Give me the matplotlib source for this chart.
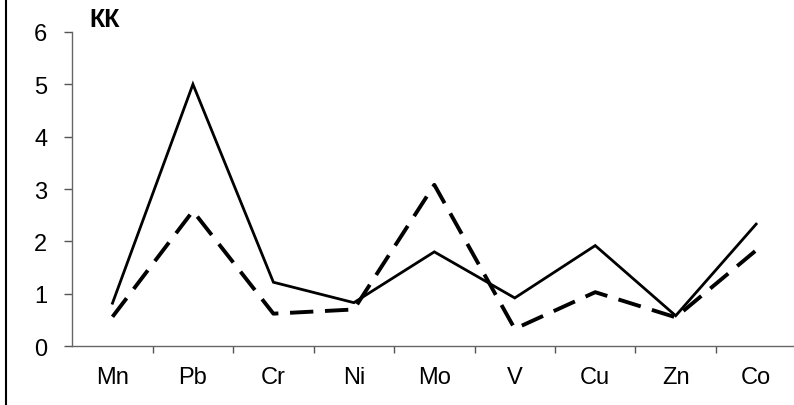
import matplotlib
matplotlib.use("Agg")
import matplotlib.pyplot as plt
from matplotlib.lines import Line2D

elements = ["Mn", "Pb", "Cr", "Ni", "Mo", "V", "Cu", "Zn", "Co"]
kk_solid = [0.82, 5.0, 1.22, 0.83, 1.8, 0.92, 1.92, 0.58, 2.33]
kk_dashed = [0.56, 2.58, 0.62, 0.7, 3.08, 0.33, 1.03, 0.55, 1.83]
y_ticks = [0, 1, 2, 3, 4, 5, 6]

plt.rcParams["font.family"] = ["Liberation Sans", "DejaVu Sans"]

fig = plt.figure(figsize=(7.94, 4.06), dpi=100)
ax = fig.add_axes([0.091, 0.145, 0.912, 0.774])

x = list(range(len(elements)))
ax.plot(x, kk_solid, color="black", lw=2.0, solid_joinstyle="miter")
ax.plot(x, kk_dashed, color="black", lw=2.8, dashes=(6, 3))

ax.set_xlim(-0.5, len(elements) - 0.5)
ax.set_ylim(0, 6)
ax.set_yticks(y_ticks)
ax.set_xticks(x)
ax.set_xticklabels(elements)
ax.set_xticks([i + 0.5 for i in x[:-1]], minor=True)
ax.tick_params(axis="x", which="major", length=0, pad=14, labelsize=17)
ax.tick_params(axis="x", which="minor", length=5, width=1, color="#555555")
ax.tick_params(axis="y", length=6, width=1, color="#555555", pad=12, labelsize=17)

for side in ("top", "right"):
    ax.spines[side].set_visible(False)
for side in ("left", "bottom"):
    ax.spines[side].set_color("#666666")
    ax.spines[side].set_linewidth(1.0)

fig.text(0.113, 0.95, "КК", fontsize=18, fontweight="bold", ha="left", va="center")

# left page border
fig.add_artist(Line2D([0.008, 0.008], [0.0, 1.0], color="black", lw=1.5,
                      transform=fig.transFigure))

fig.savefig("out.png", dpi=100, facecolor="white")
